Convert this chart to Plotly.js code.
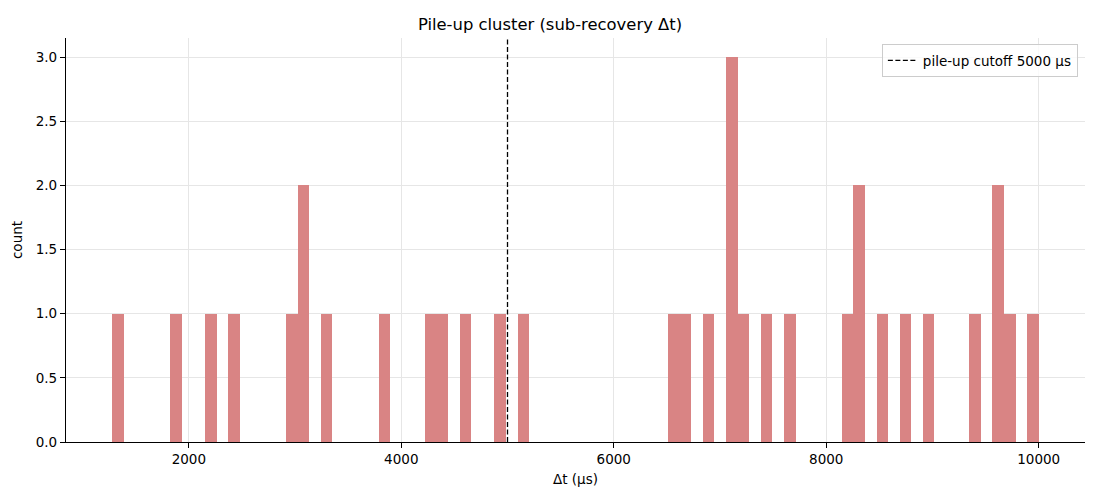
<!DOCTYPE html>
<html>
<head>
<meta charset="utf-8">
<script src="https://cdn.plot.ly/plotly-3.0.1.min.js"></script>
<style>
  body { margin: 0; background: #fff; }
  #chart { width: 1100px; height: 500px; }
</style>
</head>
<body>
<div id="chart"></div>
<script>
// sub-recovery intervals (µs)
var deltaT = [
  1335, 1880, 2205, 2425, 2970, 3060, 3095, 3300, 3840,
  4280, 4390, 4600, 4930, 5150,
  6565, 6680, 6890, 7080, 7110, 7140, 7220, 7440, 7655,
  8200, 8290, 8330, 8530, 8745, 8965, 9400, 9600, 9640, 9725, 9950
];
var binStart = 1280;
var binEnd = 10000;
var binCount = 80;
var cutoff = 5000;
var xTicks = [2000, 4000, 6000, 8000, 10000];
var yTicks = [0, 0.5, 1.0, 1.5, 2.0, 2.5, 3.0];

var FONT = 'DejaVu Sans, sans-serif';

var hist = {
  type: 'histogram',
  x: deltaT,
  xbins: { start: binStart, end: binEnd, size: (binEnd - binStart) / binCount },
  marker: { color: 'rgb(217,132,132)', line: { width: 0 } },
  showlegend: false,
  hoverinfo: 'x+y'
};

var cutLine = {
  type: 'scatter',
  mode: 'lines',
  x: [cutoff, cutoff],
  y: [0, 3.15],
  line: { color: 'black', width: 1.3, dash: '5px,2.5px' },
  name: 'pile-up cutoff ' + cutoff + ' µs'
};

var layout = {
  width: 1100,
  height: 500,
  margin: { l: 66, r: 15, t: 38, b: 58 },
  paper_bgcolor: 'white',
  plot_bgcolor: 'white',
  font: { family: FONT, size: 13.5, color: 'black' },
  bargap: 0,
  title: {
    text: 'Pile-up cluster (sub-recovery Δt)',
    font: { family: FONT, size: 16.4, color: 'black' },
    x: 0.5, xanchor: 'center', y: 0.952, yanchor: 'middle'
  },
  xaxis: {
    range: [844, 10436],
    tickmode: 'array',
    tickvals: xTicks,
    tickformat: 'd',
    ticks: 'outside', ticklen: 5, tickwidth: 1, tickcolor: 'black',
    showline: true, linecolor: 'black', linewidth: 1.1,
    showgrid: true, gridcolor: '#e6e6e6', gridwidth: 1,
    zeroline: false,
    title: { text: 'Δt (µs)', font: { family: FONT, size: 13.5 }, standoff: 8 }
  },
  yaxis: {
    range: [0, 3.15],
    tickmode: 'array',
    tickvals: yTicks,
    tickformat: '.1f',
    ticks: 'outside', ticklen: 5, tickwidth: 1, tickcolor: 'black',
    showline: true, linecolor: 'black', linewidth: 1.1,
    showgrid: true, gridcolor: '#e6e6e6', gridwidth: 1,
    zeroline: false,
    title: { text: 'count', font: { family: FONT, size: 13.5 }, standoff: 10 }
  },
  showlegend: true,
  legend: {
    x: 0.993, y: 0.985, xanchor: 'right', yanchor: 'top',
    bgcolor: 'rgba(255,255,255,0.8)',
    bordercolor: '#cccccc', borderwidth: 1,
    font: { family: FONT, size: 13.5 }
  }
};

Plotly.newPlot('chart', [hist, cutLine], layout, { displayModeBar: false, staticPlot: true });
</script>
</body>
</html>
